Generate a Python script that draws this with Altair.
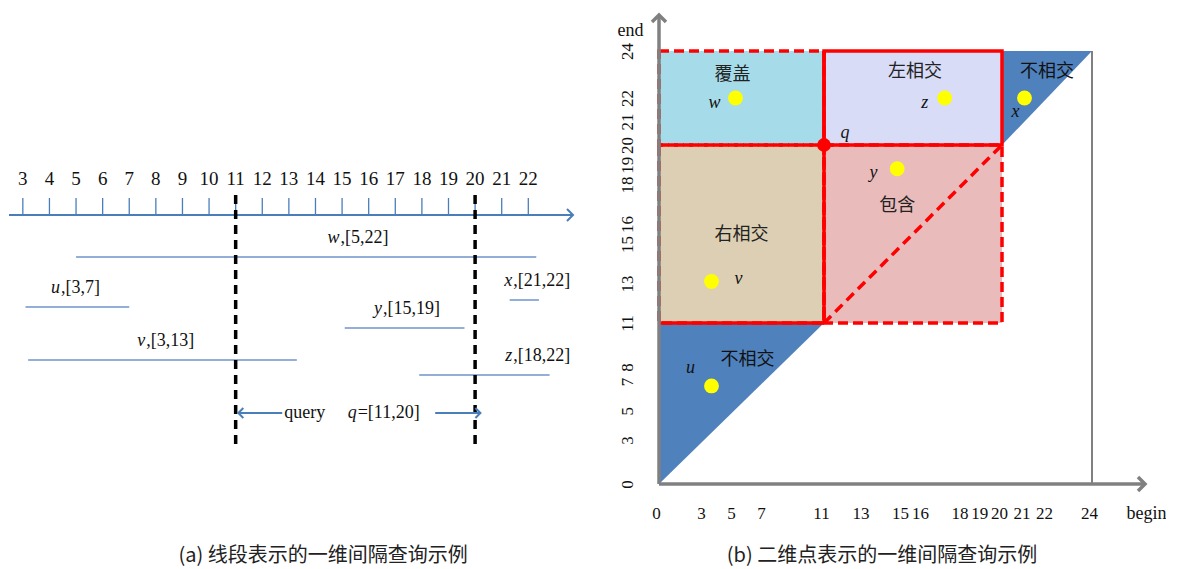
import altair as alt
import pandas as pd

# ---------------- panel (a): intervals drawn as segments ----------------
tick_vals = list(range(3, 23))
line_span = [2.48, 23.68]
seg_names = ["w", "x", "u", "y", "v", "z"]
seg_texts = [",[5,22]", ",[21,22]", ",[3,7]", ",[15,19]", ",[3,13]", ",[18,22]"]
seg_start = [5.0, 21.3, 3.1, 15.1, 3.2, 17.9]
seg_end = [22.3, 22.4, 7.0, 19.6, 13.3, 22.8]
seg_lane = [246, 289, 296, 317, 349, 364]
seg_label_at = [14.9, 21.4, 4.4, 16.5, 7.6, 21.4]
query = [11, 20]
axis_lane = 204
tick_top_lane = 187
tick_label_lane = 168
dash_lanes = [184, 437]
query_lane = 402
query_arrow_from = [12.75, 18.5]
query_arrow_to = [11.1, 20.2]
query_word_at = 13.6
query_q_at = 15.55

# ---------------- panel (b): intervals drawn as 2-D points ----------------
point_names = ["u", "v", "w", "x", "y", "z"]
point_begin = [3.5, 3.5, 5.1, 21.0, 14.7, 17.1]
point_end = [6.7, 13.1, 22.0, 22.0, 18.8, 22.0]
name_begin = [2.1, 5.3, 3.7, 20.6, 13.5, 16.1]
name_end = [7.9, 13.2, 21.8, 21.4, 18.6, 21.8]
region_names = ["覆盖", "左相交", "右相交", "包含"]
region_b0 = [0, 11, 0, 11]
region_b1 = [11, 20, 11, 20]
region_e0 = [20, 20, 11, 11]
region_e1 = [24, 24, 20, 20]
region_colors = ["#a6dce9", "#d8dcf6", "#ddcfb3", "#e9bbbb"]
region_label_b = [4.9, 15.6, 5.5, 14.7]
region_label_e = [23.0, 23.1, 15.45, 16.9]
disjoint_label_b = [22.0, 5.9]
disjoint_label_e = [23.1, 8.5]
x_ticks = [0, 3, 5, 7, 11, 13, 15, 16, 18, 19, 20, 21, 22, 24]
y_ticks = [0, 3, 5, 7, 8, 11, 13, 15, 16, 18, 19, 20, 21, 22, 24]
dom_max = 24

SERIF = "Liberation Serif"
CJK = "Noto Sans CJK SC"
BLUE = "#4a7ebb"
SEG = "#6f95cb"
RED = "#ff0000"
GREY = "#808080"
TRI = "#4f81bd"

CHEV_R = "M-1,-1L0,0L-1,1"
CHEV_L = "M1,-1L0,0L1,1"
CHEV_U = "M-1,1L0,0L1,1"

# ======================= left chart =======================
WL, HL = 564, 473
XA = alt.Scale(domain=line_span, nice=False, zero=False)
YA = alt.Scale(domain=[HL, 0], nice=False, zero=False)


def xa(f):
    return alt.X(f, type="quantitative", scale=XA, axis=None)


def ya(f):
    return alt.Y(f, type="quantitative", scale=YA, axis=None)


numline = alt.Chart(pd.DataFrame({"x": [line_span[0]], "x2": [line_span[1]], "y": [axis_lane]})).mark_rule(
    color=BLUE, strokeWidth=2).encode(x=xa("x"), x2="x2", y=ya("y"))
numarrow = alt.Chart(pd.DataFrame({"x": [line_span[1]], "y": [axis_lane]})).mark_point(
    shape=CHEV_R, filled=False, color=BLUE, strokeWidth=2, size=144, opacity=1).encode(x=xa("x"), y=ya("y"))
ticks = alt.Chart(pd.DataFrame({"x": tick_vals, "y": [tick_top_lane] * len(tick_vals),
                                "y2": [axis_lane] * len(tick_vals)})).mark_rule(
    color=BLUE, strokeWidth=1.3).encode(x=xa("x"), y=ya("y"), y2="y2")
ticklabels = alt.Chart(pd.DataFrame({"x": tick_vals, "y": [tick_label_lane] * len(tick_vals),
                                     "t": [str(v) for v in tick_vals]})).mark_text(
    font=SERIF, fontSize=19, color="#111", baseline="middle").encode(x=xa("x"), y=ya("y"), text="t:N")

seg_df = pd.DataFrame({"name": seg_names, "rest": seg_texts, "s": seg_start, "e": seg_end,
                       "lane": seg_lane, "lx": seg_label_at})
segs = alt.Chart(seg_df).mark_rule(color=SEG, strokeWidth=1.5).encode(x=xa("s"), x2="e", y=ya("lane"))
seg_n = alt.Chart(seg_df).mark_text(font=SERIF, fontSize=18, fontStyle="italic", align="right",
                                    baseline="middle", dy=-19, color="#111").encode(
    x=xa("lx"), y=ya("lane"), text="name:N")
seg_r = alt.Chart(seg_df).mark_text(font=SERIF, fontSize=18, align="left",
                                    baseline="middle", dy=-19, dx=1, color="#111").encode(
    x=xa("lx"), y=ya("lane"), text="rest:N")

dashes = alt.Chart(pd.DataFrame({"x": query, "y": [dash_lanes[0]] * 2, "y2": [dash_lanes[1]] * 2})).mark_rule(
    color="black", strokeWidth=3.5, strokeDash=[9, 6]).encode(x=xa("x"), y=ya("y"), y2="y2")

qa_df = pd.DataFrame({"x": query_arrow_from, "x2": query_arrow_to, "y": [query_lane] * 2})
qarrows = alt.Chart(qa_df).mark_rule(color=BLUE, strokeWidth=2).encode(x=xa("x"), x2="x2", y=ya("y"))
qhead_l = alt.Chart(pd.DataFrame({"x": [query_arrow_to[0]], "y": [query_lane]})).mark_point(
    shape=CHEV_L, filled=False, color=BLUE, strokeWidth=2, size=100, opacity=1).encode(x=xa("x"), y=ya("y"))
qhead_r = alt.Chart(pd.DataFrame({"x": [query_arrow_to[1]], "y": [query_lane]})).mark_point(
    shape=CHEV_R, filled=False, color=BLUE, strokeWidth=2, size=100, opacity=1).encode(x=xa("x"), y=ya("y"))
qword = alt.Chart(pd.DataFrame({"x": [query_word_at], "y": [query_lane], "t": ["query"]})).mark_text(
    font=SERIF, fontSize=18, color="#111", baseline="middle").encode(x=xa("x"), y=ya("y"), text="t:N")
qq = alt.Chart(pd.DataFrame({"x": [query_q_at], "y": [query_lane], "t": ["q"]})).mark_text(
    font=SERIF, fontSize=18, fontStyle="italic", align="right", color="#111", baseline="middle").encode(
    x=xa("x"), y=ya("y"), text="t:N")
qr = alt.Chart(pd.DataFrame({"x": [query_q_at], "y": [query_lane], "t": ["=[11,20]"]})).mark_text(
    font=SERIF, fontSize=18, align="left", color="#111", baseline="middle", dx=1).encode(
    x=xa("x"), y=ya("y"), text="t:N")
cap_a = alt.Chart(pd.DataFrame({"t": ["(a) 线段表示的一维间隔查询示例"]})).mark_text(
    font=CJK, fontSize=20, color="#222", baseline="middle").encode(
    x=alt.value(314), y=alt.value(HL + 72), text="t:N")

left = alt.layer(numline, numarrow, ticks, ticklabels, segs, seg_n, seg_r, dashes,
                 qarrows, qhead_l, qhead_r, qword, qq, qr, cap_a).properties(width=WL, height=HL)

# ======================= right chart =======================
WR, HR = 486, 473
XS = alt.Scale(domain=[0, 11, 20, 24, 27], range=[0, 165, 343, 433, 486], nice=False, zero=False)
YS = alt.Scale(domain=[0, 11, 20, 24, 25.55], range=[473, 312, 134, 40, 4], nice=False, zero=False)

x_axis = alt.Axis(values=x_ticks, domain=False, ticks=False, grid=False, labelFont=SERIF, labelFontSize=17,
                  labelColor="#111", labelPadding=34, labelBaseline="alphabetic", labelFlush=False,
                  labelOverlap=False, labelOffset=-3, title="begin", titleFont=SERIF, titleFontSize=18,
                  titleFontWeight="normal", titleColor="#111", titleX=487, titleY=34,
                  titleBaseline="alphabetic", titleAlign="center", titleAngle=0)
y_axis = alt.Axis(values=y_ticks, domain=False, ticks=False, grid=False, labelFont=SERIF, labelFontSize=17,
                  labelColor="#111", labelPadding=27, labelAngle=270, labelAlign="center",
                  labelBaseline="alphabetic", labelFlush=False, labelOverlap=False,
                  title="end", titleFont=SERIF, titleFontSize=18, titleFontWeight="normal",
                  titleColor="#111", titleX=-29, titleY=19, titleAngle=0, titleAlign="center",
                  titleBaseline="middle")


def xb(f):
    return alt.X(f, type="quantitative", scale=XS, axis=x_axis)


def yb(f):
    return alt.Y(f, type="quantitative", scale=YS, axis=y_axis)


reg_df = pd.DataFrame({"name": region_names, "b0": region_b0, "b1": region_b1, "e0": region_e0,
                       "e1": region_e1, "c": region_colors, "lb": region_label_b, "le": region_label_e})
fills = alt.Chart(reg_df).mark_rect(opacity=1).encode(
    x=xb("b0"), x2="b1", y=yb("e0"), y2="e1", color=alt.Color("c:N", scale=None))

tri_df = pd.DataFrame({"tri": ["a", "a", "b", "b"], "x": [0, 11, 20, dom_max], "y": [0, 11, 20, dom_max],
                       "y2": [11, 11, dom_max, dom_max]})
tris = alt.Chart(tri_df).mark_area(color=TRI, opacity=1).encode(
    x=xb("x"), y=yb("y"), y2="y2", detail="tri:N")

dash_df = reg_df[reg_df["name"].isin(["覆盖", "右相交", "包含"])]
dash_box = alt.Chart(dash_df).mark_rect(filled=False, stroke=RED, strokeWidth=3.5, strokeDash=[10, 5]).encode(
    x=xb("b0"), x2="b1", y=yb("e0"), y2="e1")
diag = alt.Chart(pd.DataFrame({"x": [11], "y": [11], "x2": [20], "y2": [20]})).mark_rule(
    color=RED, strokeWidth=3.5, strokeDash=[10, 6]).encode(x=xb("x"), y=yb("y"), x2="x2", y2="y2")
solid_df = reg_df[reg_df["name"] == "左相交"]
solid_box = alt.Chart(solid_df).mark_rect(filled=False, stroke=RED, strokeWidth=3.5).encode(
    x=xb("b0"), x2="b1", y=yb("e0"), y2="e1")
solid_lines = alt.Chart(pd.DataFrame({"x": [11, 0], "x2": [11, 11], "y": [11, 11], "y2": [24, 11]})).mark_rule(
    color=RED, strokeWidth=3.5).encode(x=xb("x"), x2="x2", y=yb("y"), y2="y2")

grey_df = pd.DataFrame({"x": [0, 0, dom_max], "x2": [0, 26.9, dom_max], "y": [0, 0, 0],
                        "y2": [25.5, 0, dom_max], "w": [3.5, 3.5, 2.0]})
greys = alt.Chart(grey_df).mark_rule(color=GREY).encode(
    x=xb("x"), x2="x2", y=yb("y"), y2="y2", strokeWidth=alt.StrokeWidth("w:Q", scale=None))
ghead_u = alt.Chart(pd.DataFrame({"x": [0], "y": [25.55]})).mark_point(
    shape=CHEV_U, filled=False, color=GREY, strokeWidth=3.5, size=196, opacity=1).encode(x=xb("x"), y=yb("y"))
ghead_r = alt.Chart(pd.DataFrame({"x": [27], "y": [0]})).mark_point(
    shape=CHEV_R, filled=False, color=GREY, strokeWidth=3.5, size=196, opacity=1).encode(x=xb("x"), y=yb("y"))

qdot = alt.Chart(pd.DataFrame({"x": [query[0]], "y": [query[1]]})).mark_point(
    filled=True, color=RED, size=190, opacity=1).encode(x=xb("x"), y=yb("y"))
qlabel = alt.Chart(pd.DataFrame({"x": [12.06], "y": [20.5], "t": ["q"]})).mark_text(
    font=SERIF, fontSize=18, fontStyle="italic", color="#111", baseline="middle").encode(
    x=xb("x"), y=yb("y"), text="t:N")

pt_df = pd.DataFrame({"n": point_names, "b": point_begin, "e": point_end, "nb": name_begin, "ne": name_end})
dots = alt.Chart(pt_df).mark_point(filled=True, color="#ffff00", size=220, opacity=1).encode(
    x=xb("b"), y=yb("e"))
names = alt.Chart(pt_df).mark_text(font=SERIF, fontSize=18, fontStyle="italic", color="#111",
                                   baseline="middle").encode(x=xb("nb"), y=yb("ne"), text="n:N")
reg_labels = alt.Chart(reg_df).mark_text(font=CJK, fontSize=18, color="#222", baseline="middle").encode(
    x=xb("lb"), y=yb("le"), text="name:N")
dis_labels = alt.Chart(pd.DataFrame({"b": disjoint_label_b, "e": disjoint_label_e,
                                     "t": ["不相交", "不相交"]})).mark_text(
    font=CJK, fontSize=18, color="#111", baseline="middle").encode(x=xb("b"), y=yb("e"), text="t:N")
cap_b = alt.Chart(pd.DataFrame({"t": ["(b) 二维点表示的一维间隔查询示例"]})).mark_text(
    font=CJK, fontSize=20, color="#222", baseline="middle").encode(
    x=alt.value(223), y=alt.value(HR + 72), text="t:N")

right = alt.layer(fills, tris, dash_box, diag, solid_box, solid_lines, greys, ghead_u, ghead_r,
                  dots, qdot, qlabel, names, reg_labels, dis_labels, cap_b).properties(width=WR, height=HR)

chart = alt.hconcat(left, right, spacing=40).properties(
    padding={"left": 0, "top": 0, "right": 0, "bottom": 3}, background="white"
).configure_view(strokeWidth=0)

chart.save("out.html", embed_options={"renderer": "svg", "actions": False})
